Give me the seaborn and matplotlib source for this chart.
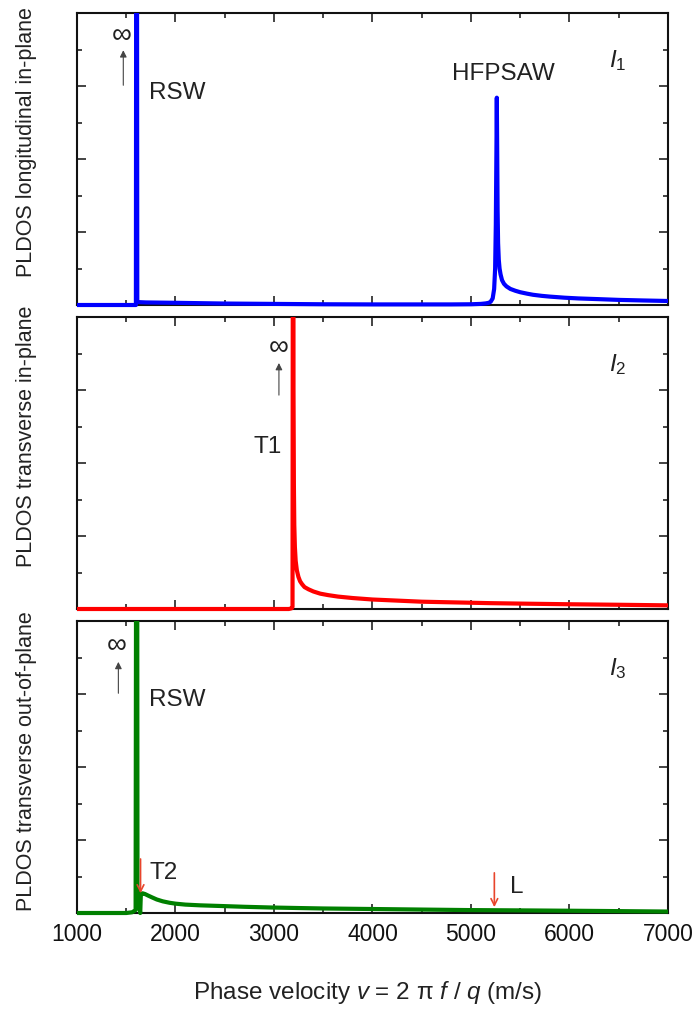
import numpy as np
import pandas as pd
import matplotlib
matplotlib.use("Agg")
import matplotlib.pyplot as plt
from matplotlib.patches import Rectangle
from matplotlib.ticker import MultipleLocator
import seaborn as sns

# Phase velocity (m/s) and PLDOS samples for the three polarisations.
# A value of 12 marks a divergence (drawn off the top of the panel).
v_long = [1000, 1500, 1598, 1605, 1612, 1700, 2000, 2500, 3000, 3500, 4000, 4500,
          4800, 5000, 5100, 5150, 5180, 5200, 5220, 5235, 5245, 5252, 5258, 5262,
          5266, 5270, 5275, 5282, 5290, 5300, 5315, 5335, 5360, 5400, 5450, 5500,
          5570, 5630, 5720, 5800, 5950, 6090, 6300, 6500, 6750, 7000]
pldos_long = [0.0, 0.0, 0.0, 12.0, 0.04, 0.035, 0.03, 0.02, 0.015, 0.01, 0.008, 0.008,
              0.008, 0.01, 0.015, 0.022, 0.03, 0.045, 0.09, 0.22, 0.50, 1.10, 2.10, 2.84,
              2.10, 1.30, 0.85, 0.62, 0.50, 0.42, 0.34, 0.29, 0.255, 0.22, 0.195, 0.175,
              0.155, 0.14, 0.125, 0.115, 0.10, 0.09, 0.08, 0.07, 0.062, 0.055]

v_trans_in = [1000, 2000, 3000, 3150, 3180, 3188, 3195, 3198, 3202, 3206, 3212, 3220,
              3232, 3248, 3265, 3285, 3310, 3350, 3400, 3470, 3550, 3650, 3800, 4000,
              4250, 4500, 4850, 5200, 5600, 6000, 6500, 7000]
pldos_trans_in = [0.0, 0.0, 0.0, 0.0, 0.01, 0.03, 12.0, 3.0, 1.7, 1.15, 0.85, 0.66,
                  0.53, 0.44, 0.38, 0.34, 0.30, 0.27, 0.24, 0.21, 0.19, 0.17, 0.15, 0.13,
                  0.115, 0.10, 0.09, 0.08, 0.072, 0.065, 0.058, 0.05]

v_trans_out = [1000, 1500, 1560, 1595, 1607, 1614, 1625, 1636, 1642, 1648, 1665, 1690,
               1720, 1760, 1810, 1870, 1940, 2000, 2100, 2250, 2480, 2700, 2980, 3250,
               3500, 3975, 4500, 4980, 5600, 6300, 7000]
pldos_trans_out = [0.0, 0.0, 0.01, 0.04, 12.0, 0.35, 0.30, 0.05, 0.0, 0.25, 0.27, 0.26,
                   0.24, 0.215, 0.185, 0.16, 0.14, 0.128, 0.115, 0.105, 0.095, 0.085,
                   0.075, 0.068, 0.062, 0.055, 0.047, 0.04, 0.035, 0.028, 0.02]

ylabels = ["PLDOS longitudinal in-plane", "PLDOS transverse in-plane",
           "PLDOS transverse out-of-plane"]
panel_tags = [r"$\mathit{I}_\mathrm{1}$", r"$\mathit{I}_\mathrm{2}$", r"$\mathit{I}_\mathrm{3}$"]
colors = ["#0000ff", "#ff0000", "#008000"]
xticks = [1000, 2000, 3000, 4000, 5000, 6000, 7000]

sns.set_style("ticks")
plt.rcParams["font.family"] = ["Liberation Sans", "DejaVu Sans"]
plt.rcParams["mathtext.fontset"] = "custom"
plt.rcParams["mathtext.rm"] = "Liberation Sans"
plt.rcParams["mathtext.it"] = "Liberation Sans:italic"
plt.rcParams["mathtext.bf"] = "Liberation Sans:bold"

TXT = "#222222"

fig = plt.figure(figsize=(6.93, 10.10), dpi=100)
W, H = 693.0, 1010.0
left, right = 77, 668
panels_px = [(13, 305), (317, 609), (621, 913)]
axes = []
for top, bot in panels_px:
    ax = fig.add_axes([left / W, 1 - bot / H, (right - left) / W, (bot - top) / H])
    axes.append(ax)

frames = [
    pd.DataFrame({"v": v_long, "pldos": pldos_long}),
    pd.DataFrame({"v": v_trans_in, "pldos": pldos_trans_in}),
    pd.DataFrame({"v": v_trans_out, "pldos": pldos_trans_out}),
]
label_y = [0.558, 0.592, 0.52]

for i, (ax, df) in enumerate(zip(axes, frames)):
    sns.lineplot(data=df, x="v", y="pldos", ax=ax, color=colors[i], lw=3.0,
                 estimator=None, sort=True, zorder=3)
    ax.set_xlim(1000, 7000)
    ax.set_ylim(0, 4)
    # let the curves sit over the bottom frame line but stop at the top one
    clip = Rectangle((0, -0.05), 1, 1.05, transform=ax.transAxes, visible=False)
    ax.add_patch(clip)
    for ln in ax.get_lines():
        ln.set_clip_path(clip)
        ln.set_solid_joinstyle("round")
    ax.xaxis.set_major_locator(MultipleLocator(1000))
    ax.xaxis.set_minor_locator(MultipleLocator(500))
    ax.yaxis.set_major_locator(MultipleLocator(1))
    ax.yaxis.set_minor_locator(MultipleLocator(0.5))
    ax.tick_params(which="both", direction="in", top=True, right=True,
                   width=1.1, color="#111111")
    ax.tick_params(which="major", length=6.5)
    ax.tick_params(which="minor", length=3.5)
    ax.tick_params(axis="y", labelleft=False)
    for sp in ax.spines.values():
        sp.set_linewidth(1.5)
        sp.set_color("#111111")
    ax.set_ylabel(ylabels[i], fontsize=15.5, color=TXT)
    ax.yaxis.set_label_coords(-0.068, label_y[i])
    ax.set_xlabel("")
    if i < 2:
        ax.tick_params(axis="x", labelbottom=False)
    else:
        ax.set_xticks(xticks)
        ax.set_xticklabels([str(t) for t in xticks])
        ax.tick_params(axis="x", labelsize=16.5, pad=7.5, labelcolor="#111111")
    ax.text(6400, 3.35, panel_tags[i], fontsize=17.5, color=TXT, ha="left", va="center")

black_arrow = dict(arrowstyle="-|>", lw=0.8, color="#444444", mutation_scale=10,
                   shrinkA=0, shrinkB=0)
red_arrow = dict(arrowstyle="->", lw=1.2, color="#e8452c", mutation_scale=12,
                 shrinkA=0, shrinkB=0)
INF = dict(fontsize=20, color=TXT, ha="center", va="center", family="Liberation Sans")
LBL = dict(fontsize=17.5, color=TXT, va="center")

# Panel 1: longitudinal in-plane
a = axes[0]
a.annotate("", xy=(1470, 3.49), xytext=(1470, 3.01), arrowprops=black_arrow)
a.text(1452, 3.69, "\u221e", **INF)
a.text(1731, 2.90, "RSW", ha="left", **LBL)
a.text(4810, 3.16, "HFPSAW", ha="left", **LBL)

# Panel 2: transverse in-plane
a = axes[1]
a.annotate("", xy=(3050, 3.37), xytext=(3050, 2.93), arrowprops=black_arrow)
a.text(3045, 3.58, "\u221e", **INF)
a.text(3080, 2.22, "T1", ha="right", **LBL)

# Panel 3: transverse out-of-plane
a = axes[2]
a.annotate("", xy=(1420, 3.44), xytext=(1420, 3.01), arrowprops=black_arrow)
a.text(1400, 3.66, "\u221e", **INF)
a.text(1731, 2.92, "RSW", ha="left", **LBL)
a.annotate("", xy=(1645, 0.27), xytext=(1645, 0.74), arrowprops=red_arrow)
a.text(1740, 0.55, "T2", ha="left", **LBL)
a.annotate("", xy=(5237, 0.08), xytext=(5237, 0.55), arrowprops=red_arrow)
a.text(5395, 0.36, "L", ha="left", **LBL)

xlab = "Phase velocity $\\mathit{v}$ = 2 \u03c0 $\\mathit{f}$ / $\\mathit{q}$ (m/s)"
fig.text(368 / W, 1 - 993 / H, xlab, fontsize=17.5, color=TXT, ha="center", va="center")

fig.savefig("out.png", dpi=100, facecolor="white")
